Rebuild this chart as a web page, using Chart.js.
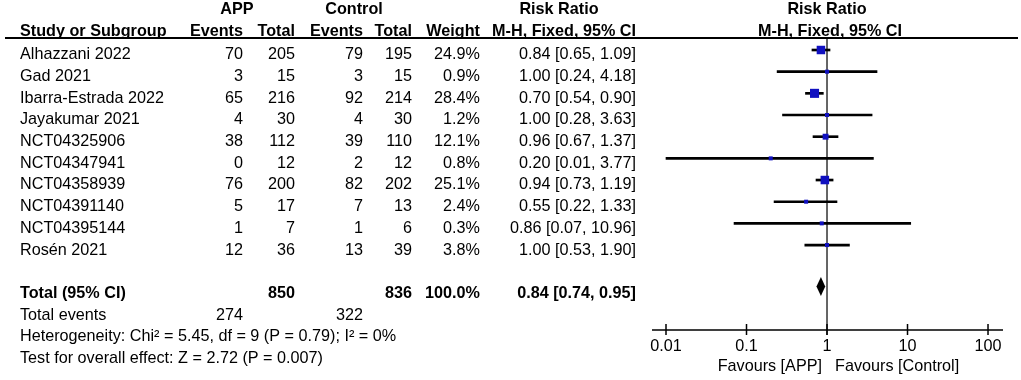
<!DOCTYPE html>
<html>
<head>
<meta charset="utf-8">
<script src="https://cdn.jsdelivr.net/npm/chart.js@4.4.1/dist/chart.umd.min.js"></script>
<style>
  html, body { margin: 0; padding: 0; background: #fff; }
</style>
</head>
<body>
<canvas id="forest" width="1021" height="380"></canvas>
<script>
// study rows
const studies = ['Alhazzani 2022', 'Gad 2021', 'Ibarra-Estrada 2022', 'Jayakumar 2021', 'NCT04325906',
                 'NCT04347941', 'NCT04358939', 'NCT04391140', 'NCT04395144', 'Rosén 2021'];
const appEvents = [70, 3, 65, 4, 38, 0, 76, 5, 1, 12];
const appTotal = [205, 15, 216, 30, 112, 12, 200, 17, 7, 36];
const ctrlEvents = [79, 3, 92, 4, 39, 2, 82, 7, 1, 13];
const ctrlTotal = [195, 15, 214, 30, 110, 12, 202, 13, 6, 39];
const weights = [24.9, 0.9, 28.4, 1.2, 12.1, 0.8, 25.1, 2.4, 0.3, 3.8];
const riskRatio = [0.84, 1.00, 0.70, 1.00, 0.96, 0.20, 0.94, 0.55, 0.86, 1.00];
const ciLow = [0.65, 0.24, 0.54, 0.28, 0.67, 0.01, 0.73, 0.22, 0.07, 0.53];
const ciHigh = [1.09, 4.18, 0.90, 3.63, 1.37, 3.77, 1.19, 1.33, 10.96, 1.90];

// pooled result
const totalRisk = [0.84, 0.74, 0.95];   // estimate, low, high
const totalN = [850, 836];
const totalEvents = [274, 322];
const totalWeight = 100.0;
const heterogeneity = 'Heterogeneity: Chi² = 5.45, df = 9 (P = 0.79); I² = 0%';
const overallTest = 'Test for overall effect: Z = 2.72 (P = 0.007)';

const xTicks = [0.01, 0.1, 1, 10, 100];
const favours = ['Favours [APP]', 'Favours [Control]'];

const FONT = '"Liberation Sans", Arial, sans-serif';
const TOTAL_ROW = 11;

const fmt = v => v.toFixed(2);
const ciText = (e, l, h) => fmt(e) + ' [' + fmt(l) + ', ' + fmt(h) + ']';

// table columns (x of left or right edge)
const cols = {
    study: 20, appEv: 243, appTot: 295, ctrlEv: 363, ctrlTot: 412, weight: 480, ci: 636
};

function txt(ctx, s, x, y, align, bold) {
    ctx.font = (bold ? 'bold ' : '') + '16.2px ' + FONT;
    ctx.textAlign = align;
    ctx.fillText(s, x, y);
}

const forestPlugin = {
    id: 'forest',
    beforeDatasetsDraw(chart) {
        const {ctx, scales: {x}, chartArea} = chart;
        const x1 = x.getPixelForValue(1);
        ctx.save();
        ctx.strokeStyle = '#333';
        ctx.lineWidth = 1.5;
        ctx.beginPath();
        ctx.moveTo(x1, chartArea.top);
        ctx.lineTo(x1, chartArea.bottom + 5);
        ctx.stroke();
        ctx.restore();
    },
    afterDraw(chart) {
        const {ctx, scales: {x, y}, chartArea} = chart;
        ctx.save();
        ctx.fillStyle = '#000';
        ctx.textBaseline = 'middle';

        // headers
        txt(ctx, 'APP', 237, 10, 'center', true);
        txt(ctx, 'Control', 354, 10, 'center', true);
        txt(ctx, 'Risk Ratio', 559, 10, 'center', true);
        txt(ctx, 'Risk Ratio', x.getPixelForValue(1), 10, 'center', true);
        txt(ctx, 'Study or Subgroup', cols.study, 32, 'left', true);
        txt(ctx, 'Events', cols.appEv, 32, 'right', true);
        txt(ctx, 'Total', cols.appTot, 32, 'right', true);
        txt(ctx, 'Events', cols.ctrlEv, 32, 'right', true);
        txt(ctx, 'Total', cols.ctrlTot, 32, 'right', true);
        txt(ctx, 'Weight', cols.weight, 32, 'right', true);
        txt(ctx, 'M-H, Fixed, 95% CI', cols.ci, 32, 'right', true);
        txt(ctx, 'M-H, Fixed, 95% CI', x.getPixelForValue(1) + 3, 32, 'center', true);

        ctx.strokeStyle = '#000';
        ctx.lineWidth = 2;
        ctx.beginPath();
        ctx.moveTo(5, 38);
        ctx.lineTo(1018, 38);
        ctx.stroke();

        // study rows
        studies.forEach((s, i) => {
            const ty = y.getPixelForValue(i) + 5;
            txt(ctx, s, cols.study, ty, 'left');
            txt(ctx, String(appEvents[i]), cols.appEv, ty, 'right');
            txt(ctx, String(appTotal[i]), cols.appTot, ty, 'right');
            txt(ctx, String(ctrlEvents[i]), cols.ctrlEv, ty, 'right');
            txt(ctx, String(ctrlTotal[i]), cols.ctrlTot, ty, 'right');
            txt(ctx, weights[i].toFixed(1) + '%', cols.weight, ty, 'right');
            txt(ctx, ciText(riskRatio[i], ciLow[i], ciHigh[i]), cols.ci, ty, 'right');
        });

        // totals
        let ty = y.getPixelForValue(TOTAL_ROW) + 5;
        txt(ctx, 'Total (95% CI)', cols.study, ty, 'left', true);
        txt(ctx, String(totalN[0]), cols.appTot, ty, 'right', true);
        txt(ctx, String(totalN[1]), cols.ctrlTot, ty, 'right', true);
        txt(ctx, totalWeight.toFixed(1) + '%', cols.weight, ty, 'right', true);
        txt(ctx, ciText(totalRisk[0], totalRisk[1], totalRisk[2]), cols.ci, ty, 'right', true);
        ty = y.getPixelForValue(TOTAL_ROW + 1) + 5;
        txt(ctx, 'Total events', cols.study, ty, 'left');
        txt(ctx, String(totalEvents[0]), cols.appEv, ty, 'right');
        txt(ctx, String(totalEvents[1]), cols.ctrlEv, ty, 'right');
        txt(ctx, heterogeneity, cols.study, y.getPixelForValue(TOTAL_ROW + 2) + 5, 'left');
        txt(ctx, overallTest, cols.study, y.getPixelForValue(TOTAL_ROW + 3) + 5, 'left');

        // pooled diamond
        const dy = y.getPixelForValue(TOTAL_ROW) - 2;
        ctx.fillStyle = '#000';
        ctx.beginPath();
        ctx.moveTo(x.getPixelForValue(totalRisk[1]), dy);
        ctx.lineTo(x.getPixelForValue(totalRisk[0]), dy - 9.5);
        ctx.lineTo(x.getPixelForValue(totalRisk[2]), dy);
        ctx.lineTo(x.getPixelForValue(totalRisk[0]), dy + 9.5);
        ctx.closePath();
        ctx.fill();

        // x axis
        const ay = chartArea.bottom;
        ctx.strokeStyle = '#000';
        ctx.lineWidth = 1.5;
        ctx.beginPath();
        ctx.moveTo(chartArea.left, ay);
        ctx.lineTo(chartArea.right, ay);
        xTicks.forEach(v => {
            const px = x.getPixelForValue(v);
            ctx.moveTo(px, ay - 6);
            ctx.lineTo(px, ay + 5);
        });
        ctx.stroke();
        xTicks.forEach(v => txt(ctx, String(v), x.getPixelForValue(v), ay + 17, 'center'));
        const x1 = x.getPixelForValue(1);
        txt(ctx, favours[0], x1 - 5, ay + 37, 'right');
        txt(ctx, favours[1], x1 + 8, ay + 37, 'left');
        ctx.restore();
    }
};

const squareSide = w => Math.max(4, 1.7 * Math.sqrt(w));

new Chart(document.getElementById('forest'), {
    data: {
        datasets: [{
            type: 'bar',
            indexAxis: 'y',
            data: studies.map((s, i) => ({x: [ciLow[i], ciHigh[i]], y: i})),
            backgroundColor: '#000',
            barThickness: 2,
            order: 2
        }, {
            type: 'scatter',
            data: studies.map((s, i) => ({x: riskRatio[i], y: i})),
            pointStyle: 'rect',
            pointRadius: c => squareSide(weights[c.dataIndex]) / Math.SQRT2,
            backgroundColor: '#1010c0',
            borderWidth: 0,
            order: 1
        }]
    },
    options: {
        responsive: false,
        animation: false,
        devicePixelRatio: 1,
        layout: {padding: {left: 652, right: 18, top: 38, bottom: 50}},
        scales: {
            x: {type: 'logarithmic', min: 0.0067, max: 153.5, offset: false, display: false},
            y: {type: 'linear', reverse: true, min: -0.554, max: 12.92, offset: false, display: false}
        },
        plugins: {legend: {display: false}, tooltip: {enabled: false}}
    },
    plugins: [forestPlugin]
});
</script>
</body>
</html>
